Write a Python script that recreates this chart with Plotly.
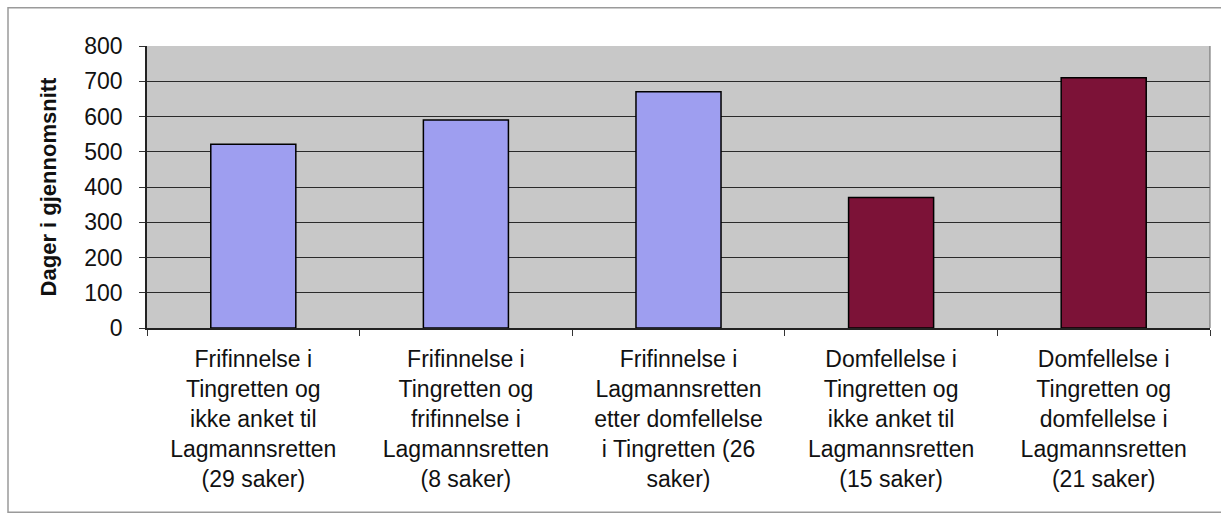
import plotly.graph_objects as go

categories = [
    "Frifinnelse i<br>Tingretten og<br>ikke anket til<br>Lagmannsretten<br>(29 saker)",
    "Frifinnelse i<br>Tingretten og<br>frifinnelse i<br>Lagmannsretten<br>(8 saker)",
    "Frifinnelse i<br>Lagmannsretten<br>etter domfellelse<br>i Tingretten (26<br>saker)",
    "Domfellelse i<br>Tingretten og<br>ikke anket til<br>Lagmannsretten<br>(15 saker)",
    "Domfellelse i<br>Tingretten og<br>domfellelse i<br>Lagmannsretten<br>(21 saker)",
]
values = [521, 590, 670, 370, 710]
bar_colors = ["#9E9EF0", "#9E9EF0", "#9E9EF0", "#7C1237", "#7C1237"]
y_ticks = [0, 100, 200, 300, 400, 500, 600, 700, 800]

fig = go.Figure(
    go.Bar(
        x=categories,
        y=values,
        marker=dict(color=bar_colors, line=dict(color="#000000", width=1.5)),
        width=0.4,
    )
)

font_family = "Liberation Sans, Arial, sans-serif"

fig.update_layout(
    width=1221,
    height=515,
    margin=dict(l=147, r=11, t=46, b=187),
    paper_bgcolor="#FFFFFF",
    plot_bgcolor="#C8C8C8",
    showlegend=False,
    font=dict(family=font_family, size=23, color="#111111"),
    xaxis=dict(
        type="category",
        tickson="boundaries",
        ticks="outside",
        ticklen=6,
        tickcolor="#333333",
        ticklabelstandoff=10,
        showline=True,
        linecolor="#222222",
        linewidth=1.5,
        mirror=False,
        showgrid=False,
        tickangle=0,
        tickfont=dict(size=23, family=font_family),
    ),
    yaxis=dict(
        range=[0, 800],
        tickvals=y_ticks,
        ticks="outside",
        ticklen=6,
        tickcolor="#333333",
        ticklabelstandoff=12,
        showline=True,
        linecolor="#222222",
        linewidth=1.5,
        showgrid=True,
        gridcolor="#2A2A2A",
        gridwidth=1,
        zeroline=False,
        tickfont=dict(size=23, family=font_family),
        title=dict(
            text="<b>Dager i gjennomsnitt</b>",
            font=dict(size=22, family=font_family),
            standoff=22,
        ),
    ),
    shapes=[
        dict(type="line", xref="paper", yref="paper", x0=1, x1=1, y0=0, y1=1,
             line=dict(color="#666666", width=1)),
        dict(type="rect", xref="paper", yref="paper",
             x0=(8 - 147) / 1063, x1=(1230 - 147) / 1063,
             y0=(328 - 511) / 280, y1=(326 - 8) / 280,
             line=dict(color="#9A9A9A", width=1.5), fillcolor="rgba(0,0,0,0)",
             layer="below"),
    ],
)

fig.write_html(
    "out.html",
    config={"displayModeBar": False},
    post_script="document.body.style.margin='0';document.body.style.overflow='hidden';",
)
